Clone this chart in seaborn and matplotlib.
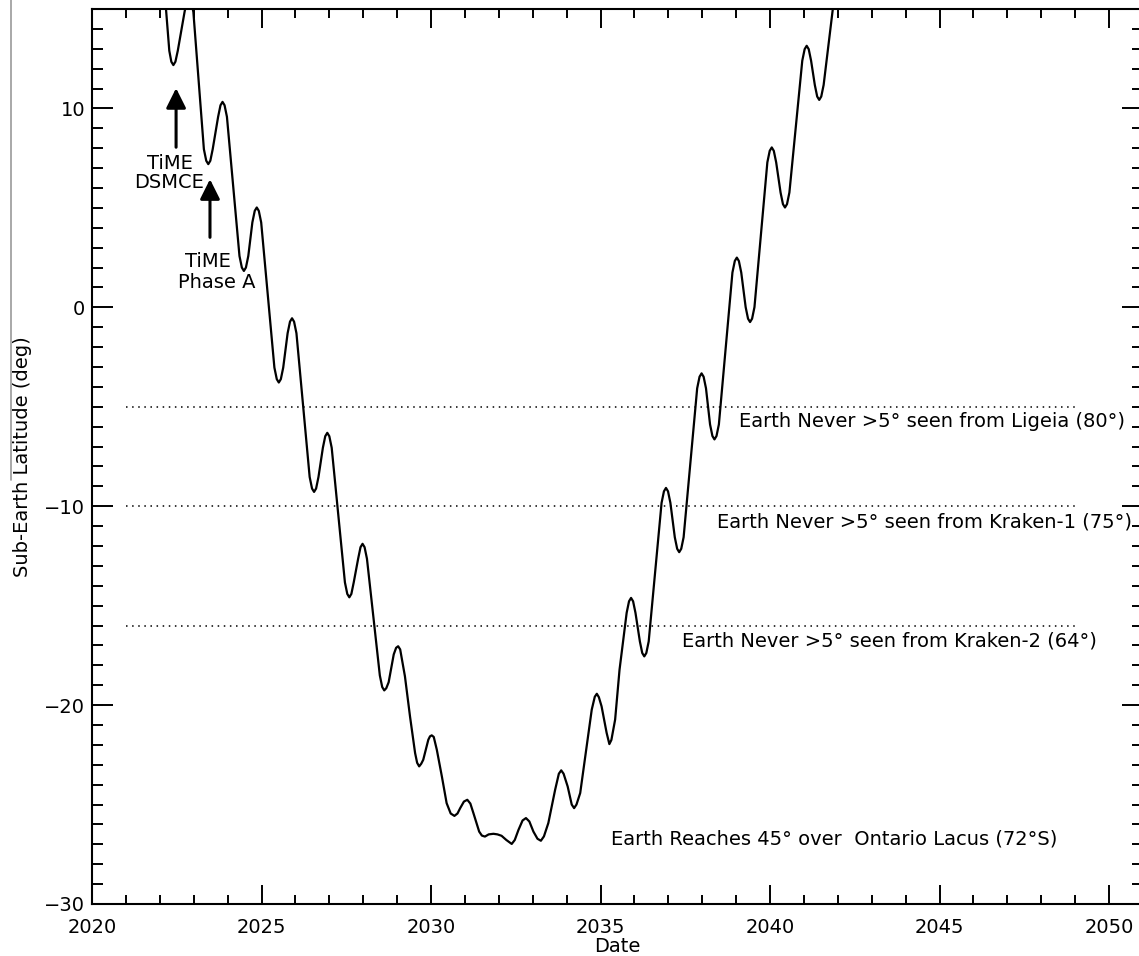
import numpy as np
import pandas as pd
import matplotlib
matplotlib.use('Agg')
import matplotlib.pyplot as plt
from matplotlib.lines import Line2D
from matplotlib.ticker import MultipleLocator
import seaborn as sns

# Sub-Earth latitude of Titan (decimal year, deg)
year = [
    2021.82, 2021.95, 2022.28, 2022.34, 2022.40, 2022.46, 2022.53,
    2022.73, 2022.80, 2022.86, 2022.92, 2022.99,
    2023.30, 2023.37, 2023.43, 2023.49, 2023.56,
    2023.72, 2023.79, 2023.85, 2023.91, 2023.98,
    2024.35, 2024.42, 2024.48, 2024.54, 2024.61,
    2024.73, 2024.80, 2024.86, 2024.92, 2024.99,
    2025.38, 2025.45, 2025.51, 2025.57, 2025.64,
    2025.77, 2025.84, 2025.90, 2025.96, 2026.03,
    2026.42, 2026.49, 2026.55, 2026.61, 2026.68,
    2026.81, 2026.88, 2026.94, 2027.00, 2027.07,
    2027.46, 2027.53, 2027.59, 2027.65, 2027.72,
    2027.85, 2027.92, 2027.98, 2028.04, 2028.11,
    2028.49, 2028.56, 2028.62, 2028.68, 2028.75,
    2028.90, 2028.97, 2029.03, 2029.09,
    2029.23, 2029.38, 2029.53, 2029.59, 2029.65, 2029.71, 2029.77,
    2029.92, 2029.97, 2030.02, 2030.08, 2030.17,
    2030.32, 2030.46, 2030.58, 2030.69, 2030.78, 2030.86,
    2030.97, 2031.07, 2031.16, 2031.25, 2031.42, 2031.50, 2031.59,
    2031.70, 2031.84, 2031.96, 2032.08, 2032.22, 2032.38,
    2032.47, 2032.58, 2032.70, 2032.80, 2032.90, 2033.02,
    2033.14, 2033.24, 2033.33, 2033.46, 2033.66, 2033.77, 2033.84,
    2033.91, 2034.03, 2034.15, 2034.22, 2034.29, 2034.40,
    2034.59, 2034.74, 2034.83, 2034.89, 2034.95, 2035.03,
    2035.18, 2035.26, 2035.32, 2035.43, 2035.56,
    2035.77, 2035.84, 2035.90, 2035.96, 2036.03,
    2036.16, 2036.23, 2036.29, 2036.35, 2036.42,
    2036.80, 2036.87, 2036.93, 2036.99, 2037.06,
    2037.19, 2037.26, 2037.32, 2037.38, 2037.45,
    2037.85, 2037.92, 2037.98, 2038.04, 2038.11,
    2038.23, 2038.30, 2038.36, 2038.42, 2038.49,
    2038.89, 2038.96, 2039.02, 2039.08, 2039.15,
    2039.28, 2039.35, 2039.41, 2039.47, 2039.54,
    2039.92, 2039.99, 2040.05, 2040.11, 2040.18,
    2040.31, 2040.38, 2040.44, 2040.50, 2040.57,
    2040.95, 2041.02, 2041.08, 2041.14, 2041.21,
    2041.32, 2041.39, 2041.45, 2041.51, 2041.58,
    2042.00,
]
lat = [
    20.8, 20.0, 12.9, 12.35, 12.18, 12.35, 12.9,
    14.85, 15.45, 15.6, 15.43, 14.85,
    7.95, 7.37, 7.20, 7.37, 7.95,
    9.58, 10.16, 10.33, 10.16, 9.58,
    2.58, 2.00, 1.83, 2.00, 2.58,
    4.27, 4.85, 5.02, 4.85, 4.27,
    -3.03, -3.61, -3.78, -3.61, -3.03,
    -1.30, -0.72, -0.55, -0.72, -1.30,
    -8.53, -9.11, -9.28, -9.11, -8.53,
    -7.06, -6.48, -6.31, -6.48, -7.06,
    -13.83, -14.41, -14.58, -14.41, -13.83,
    -12.64, -12.06, -11.89, -12.06, -12.64,
    -18.51, -19.09, -19.26, -19.15, -18.85,
    -17.45, -17.12, -17.04, -17.20,
    -18.55, -20.57, -22.41, -22.90, -23.08, -22.95, -22.75,
    -21.74, -21.57, -21.52, -21.60, -22.24,
    -23.59, -24.93, -25.45, -25.57, -25.45, -25.18,
    -24.85, -24.76, -24.95, -25.43, -26.36, -26.56, -26.61,
    -26.50, -26.47, -26.50, -26.57, -26.78, -26.98,
    -26.78, -26.27, -25.80, -25.68, -25.85, -26.36,
    -26.72, -26.82, -26.60, -25.93, -24.26, -23.45, -23.28,
    -23.45, -24.09, -25.00, -25.18, -25.00, -24.42,
    -22.08, -20.23, -19.58, -19.43, -19.60, -20.06,
    -21.40, -21.96, -21.75, -20.73, -18.22,
    -15.36, -14.78, -14.61, -14.78, -15.36,
    -16.80, -17.38, -17.55, -17.38, -16.80,
    -9.83, -9.25, -9.08, -9.25, -9.83,
    -11.56, -12.14, -12.31, -12.14, -11.56,
    -4.07, -3.49, -3.32, -3.49, -4.07,
    -5.89, -6.47, -6.64, -6.47, -5.89,
    1.75, 2.33, 2.50, 2.33, 1.75,
    0.01, -0.57, -0.74, -0.57, 0.01,
    7.29, 7.87, 8.04, 7.87, 7.29,
    5.77, 5.19, 5.02, 5.19, 5.77,
    12.40, 12.98, 13.15, 12.98, 12.40,
    11.18, 10.60, 10.43, 10.60, 11.18,
    17.10,
]

# visibility limits (deg) and their notes
limit_lat = [-5, -10, -16]
limit_txt = [
    'Earth Never >5° seen from Ligeia (80°)',
    'Earth Never >5° seen from Kraken-1 (75°)',
    'Earth Never >5° seen from Kraken-2 (64°)',
]
limit_start, limit_end = 2021, 2049

df = pd.DataFrame({'year': year, 'lat': lat})

sns.set_theme(style='ticks')
plt.rcParams['font.family'] = ['DejaVu Sans']
plt.rcParams['axes.linewidth'] = 1.5
for k in ['text.color', 'axes.labelcolor', 'xtick.color', 'ytick.color',
          'axes.edgecolor']:
    plt.rcParams[k] = 'black'

fig = plt.figure(figsize=(11.39, 9.56), dpi=100)
ax = fig.add_axes([92 / 1139, 52 / 956, 1051 / 1139, 895 / 956])

sns.lineplot(data=df, x='year', y='lat', color='black', linewidth=1.6,
             estimator=None, sort=False, ax=ax)

ax.hlines(limit_lat, limit_start, limit_end, colors='black',
          linestyles=(0, (1, 3)), linewidth=1.1)

fs = 14
txt_pos = [(2050.47, -5.74), (2050.68, -10.77), (2049.65, -16.76)]
for (tx, ty), s in zip(txt_pos, limit_txt):
    ax.text(tx, ty, s, ha='right', va='center', fontsize=fs)
ax.text(2048.47, -26.72, 'Earth Reaches 45° over  Ontario Lacus (72°S)',
        ha='right', va='center', fontsize=fs)

# mission milestones
arrow_kw = dict(arrowstyle='-|>,head_length=0.6,head_width=0.3', lw=2.2,
                color='black', shrinkA=0, shrinkB=0, mutation_scale=20)
ax.annotate('', xy=(2022.48, 11.02), xytext=(2022.48, 8.05), arrowprops=arrow_kw)
ax.annotate('', xy=(2023.48, 6.44), xytext=(2023.48, 3.52), arrowprops=arrow_kw)
ax.text(2022.30, 7.25, 'TiME', ha='center', va='center', fontsize=fs)
ax.text(2022.26, 6.29, 'DSMCE', ha='center', va='center', fontsize=fs)
ax.text(2023.41, 2.31, 'TiME', ha='center', va='center', fontsize=fs)
ax.text(2023.68, 1.26, 'Phase A', ha='center', va='center', fontsize=fs)

ax.set_xlim(2020, 2051)
ax.set_ylim(-30, 15)
ax.xaxis.set_major_locator(MultipleLocator(5))
ax.xaxis.set_minor_locator(MultipleLocator(1))
ax.yaxis.set_major_locator(MultipleLocator(10))
ax.yaxis.set_minor_locator(MultipleLocator(1))
ax.tick_params(which='both', direction='in', top=True, right=True,
               width=1.4, color='black', labelsize=fs)
ax.tick_params(axis='x', which='major', length=13.5, pad=10)
ax.tick_params(axis='x', which='minor', length=6.5)
ax.tick_params(axis='y', which='major', length=15, pad=5)
ax.tick_params(axis='y', which='minor', length=8)
for sp in ax.spines.values():
    sp.set_visible(True)
    sp.set_color('black')

ax.set_xlabel('Date', fontsize=fs, labelpad=0)
ax.set_ylabel('Sub-Earth Latitude (deg)', fontsize=fs, labelpad=9)

# thin grey rule at the far left of the page
fig.add_artist(Line2D([11 / 1139, 11 / 1139], [1.0, 1 - 480 / 956],
                      transform=fig.transFigure, color='#999999', lw=1.2))

fig.savefig('out.png', dpi=100, facecolor='white')
